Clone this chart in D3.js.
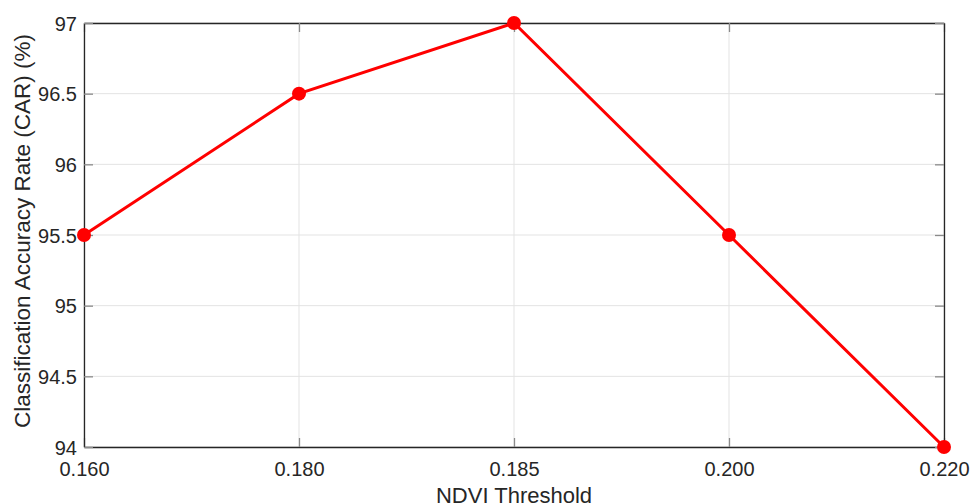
<!DOCTYPE html>
<html>
<head>
<meta charset="utf-8">
<script src="https://cdn.jsdelivr.net/npm/d3@7"></script>
<style>
  body { margin: 0; background: #fff; }
  text { font-family: "Liberation Sans", Arial, sans-serif; fill: #262626; }
</style>
</head>
<body>
<svg id="chart" width="972" height="504"></svg>
<script>
// data
const thresholds = ["0.160", "0.180", "0.185", "0.200", "0.220"];
const car = [95.5, 96.5, 97, 95.5, 94];
const yTicks = [94, 94.5, 95, 95.5, 96, 96.5, 97];

const margin = {top: 23, right: 28, bottom: 57, left: 84};
const width = 972 - margin.left - margin.right;
const height = 504 - margin.top - margin.bottom;

const svg = d3.select("#chart")
  .append("g")
  .attr("transform", `translate(${margin.left}, ${margin.top})`);

const xScale = d3.scalePoint()
  .domain(thresholds)
  .range([0, width]);

const yScale = d3.scaleLinear()
  .domain([94, 97])
  .range([height, 0]);

// grid
svg.append("g")
  .selectAll("line.gx")
  .data(thresholds)
  .enter()
  .append("line")
  .attr("x1", d => xScale(d))
  .attr("x2", d => xScale(d))
  .attr("y1", 0)
  .attr("y2", height)
  .attr("stroke", "#e3e3e3")
  .attr("stroke-width", 1);

svg.append("g")
  .selectAll("line.gy")
  .data(yTicks)
  .enter()
  .append("line")
  .attr("x1", 0)
  .attr("x2", width)
  .attr("y1", d => yScale(d))
  .attr("y2", d => yScale(d))
  .attr("stroke", "#e3e3e3")
  .attr("stroke-width", 1);

// axes (ticks inward, matlab style)
const xAxis = svg.append("g")
  .attr("transform", `translate(0, ${height})`)
  .call(d3.axisBottom(xScale).tickSizeInner(-9).tickSizeOuter(0).tickPadding(15));
const xAxisTop = svg.append("g")
  .call(d3.axisTop(xScale).tickSizeInner(-9).tickSizeOuter(0).tickFormat(""));
const yAxis = svg.append("g")
  .call(d3.axisLeft(yScale).tickValues(yTicks).tickFormat(d3.format("")).tickSizeInner(-9).tickSizeOuter(0).tickPadding(7));
const yAxisRight = svg.append("g")
  .attr("transform", `translate(${width}, 0)`)
  .call(d3.axisRight(yScale).tickValues(yTicks).tickSizeInner(-9).tickSizeOuter(0).tickFormat(""));

[xAxis, xAxisTop, yAxis, yAxisRight].forEach(a => {
  a.select(".domain").attr("stroke", "#262626").attr("stroke-width", 1.3);
  a.selectAll(".tick line").attr("stroke", "#8a8a8a").attr("stroke-width", 1.3);
  a.selectAll(".tick text")
    .attr("font-size", "20px")
    .attr("font-family", "'Liberation Sans', Arial, sans-serif")
    .attr("fill", "#262626");
});
yAxis.selectAll(".tick text").attr("dy", "0.36em");

// axis titles
svg.append("text")
  .attr("x", width / 2)
  .attr("y", height + 56)
  .attr("text-anchor", "middle")
  .attr("font-size", "22px")
  .text("NDVI Threshold");

svg.append("text")
  .attr("transform", `translate(${-62}, ${height / 2 - 4}) rotate(-90)`)
  .attr("text-anchor", "middle")
  .attr("dy", "0.35em")
  .attr("font-size", "22.5px")
  .text("Classification Accuracy Rate (CAR) (%)");

// line
const line = d3.line()
  .x((d, i) => xScale(thresholds[i]))
  .y(d => yScale(d));

svg.append("path")
  .datum(car)
  .attr("d", line)
  .attr("fill", "none")
  .attr("stroke", "#ff0000")
  .attr("stroke-width", 3);

// dots
svg.append("g")
  .selectAll("circle")
  .data(car)
  .enter()
  .append("circle")
  .attr("cx", (d, i) => xScale(thresholds[i]))
  .attr("cy", d => yScale(d))
  .attr("r", 7)
  .attr("fill", "#ff0000");
</script>
</body>
</html>
